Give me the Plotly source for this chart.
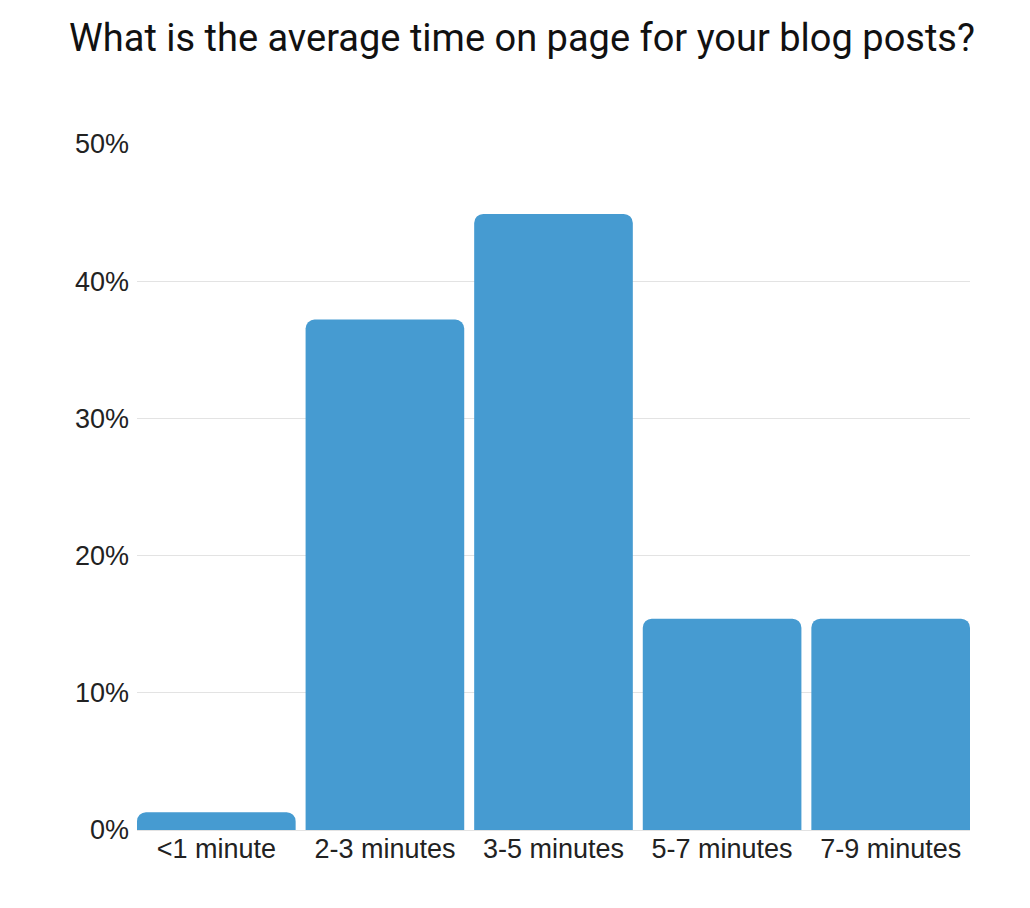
import plotly.graph_objects as go

categories = ["<1 minute", "2-3 minutes", "3-5 minutes", "5-7 minutes", "7-9 minutes"]
shares = [1.3, 37.2, 44.9, 15.4, 15.4]
tick_vals = [0, 10, 20, 30, 40, 50]
tick_text = ["0%", "10%", "20%", "30%", "40%", "50%"]

gap = 0.059

fig = go.Figure()
fig.add_trace(go.Bar(x=categories, y=shares,
                     marker=dict(color="#469bd1", cornerradius=9, line=dict(width=0)),
                     hoverinfo="x+y"))

# page body has an 8px margin, so the figure is offset by 8px
fig.update_layout(
    width=1030, height=908,
    paper_bgcolor="white", plot_bgcolor="white",
    margin=dict(l=129, r=68, t=136, b=86),
    bargap=gap,
    showlegend=False,
    title=dict(text="What is the average time on page for your blog posts?",
               x=(522 - 8) / 1030, xanchor="center", y=1 - 30 / 908, yanchor="middle",
               font=dict(family="Roboto", size=38, color="#111111")),
    font=dict(family="Liberation Sans, Arial", size=27, color="#222222"),
)
fig.update_xaxes(range=[-0.5 + gap / 2, 4.5 - gap / 2], showgrid=False,
                 showline=False, ticks="", tickfont=dict(size=27, color="#222222"))
fig.update_yaxes(range=[0, 50], tickvals=tick_vals, ticktext=tick_text,
                 showgrid=True, gridcolor="#e3e3e3", gridwidth=1,
                 zeroline=True, zerolinecolor="#e3e3e3", zerolinewidth=1,
                 showline=False, ticks="", ticklabelstandoff=7,
                 tickfont=dict(size=27, color="#222222"))

fig.write_html("out.html")
